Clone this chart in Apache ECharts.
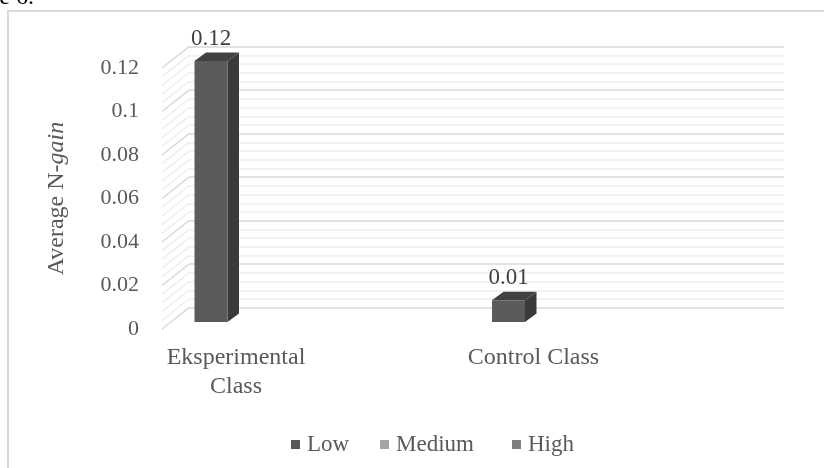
<!DOCTYPE html>
<html>
<head>
<meta charset="utf-8">
<script src="https://cdn.jsdelivr.net/npm/echarts@6/dist/echarts.min.js"></script>
<style>
  html, body { margin: 0; padding: 0; background: #ffffff; }
  #chart { width: 824px; height: 468px; }
</style>
</head>
<body>
<div id="chart"></div>
<script>
// Average N-gain per class, split by level
const categories = ['Eksperimental\nClass', 'Control Class'];
const seriesNames = ['Low', 'Medium', 'High'];
const lowValues = [0.12, 0.01];
const mediumValues = [];
const highValues = [];
const yTicks = [0, 0.02, 0.04, 0.06, 0.08, 0.1, 0.12];
const yTickLabels = ['0', '0.02', '0.04', '0.06', '0.08', '0.1', '0.12'];

const FONT = '"Liberation Serif", "Times New Roman", serif';
const TEXT = '#595959';
const PLANE_W = 595, PLANE_H = 261;
const DEPTH = { x: 27, y: 21.3 };      // offset from front plane to back wall
const MINOR_SPLIT = 5;

// gridline values on the side wall: majors plus their minor subdivisions
const wallValues = [];
const wallMajor = [];
yTicks.forEach((t, i) => {
  if (i < yTicks.length - 1) {
    const step = (yTicks[i + 1] - t) / MINOR_SPLIT;
    for (let k = 0; k < MINOR_SPLIT; k++) {
      wallValues.push([0, t + step * k]);
      wallMajor.push(k === 0);
    }
  } else {
    wallValues.push([0, t]);
    wallMajor.push(true);
  }
});

function tickLabel(v) {
  let best = 0;
  yTicks.forEach((t, i) => { if (Math.abs(t - v) < Math.abs(yTicks[best] - v)) best = i; });
  return yTickLabels[best];
}

function renderSideWall(params, api) {
  const p = api.coord([0, api.value(1)]);
  const x0 = params.coordSys.x;
  const major = wallMajor[params.dataIndex];
  return {
    type: 'line',
    shape: { x1: x0 - DEPTH.x, y1: p[1] + DEPTH.y, x2: x0, y2: p[1] },
    style: { stroke: major ? '#d9d9d9' : '#eeeeee', lineWidth: 1.5 }
  };
}

function renderBar(params, api) {
  const v = api.value(1);
  const base = api.coord([api.value(0), 0]);
  const top = api.coord([api.value(0), v]);
  const w = 33, dx = 11.5, dy = -8.5;
  const l = base[0] - 41.5, r = l + w;
  const b = base[1] - 7, t = top[1] - 7;
  return {
    type: 'group',
    children: [
      { type: 'polygon', shape: { points: [[r, t], [r + dx, t + dy], [r + dx, b + dy], [r, b]] },
        style: { fill: '#3a3a3a' } },
      { type: 'polygon', shape: { points: [[l, t], [l + dx, t + dy], [r + dx, t + dy], [r, t]] },
        style: { fill: '#414141' } },
      { type: 'rect', shape: { x: l, y: t, width: w, height: b - t },
        style: { fill: '#5b5b5b' } },
      { type: 'text', x: l + w / 2, y: t - 22,
        style: { text: String(v), align: 'center', verticalAlign: 'middle',
                 font: '23px ' + FONT, fill: '#404040' } }
    ]
  };
}

const chart = echarts.init(document.getElementById('chart'), null, { renderer: 'canvas' });

function legendAt(left, name) {
  return {
    left: left, top: 428, itemWidth: 9, itemHeight: 9, icon: 'rect', itemGap: 0,
    selectedMode: false, data: [name],
    textStyle: { fontFamily: 'Liberation Serif', fontSize: 23, color: TEXT, padding: [0, 0, 0, 2] }
  };
}

chart.setOption({
  backgroundColor: '#ffffff',
  animation: false,
  graphic: [
    { type: 'rect', z: -10, silent: true,
      shape: { x: 8, y: 11, width: 900, height: 600 },
      style: { fill: 'none', stroke: '#d9d9d9', lineWidth: 2 } },
    { type: 'text', silent: true, x: 34, y: -2,
      style: { text: 'Figure 6.', align: 'right', verticalAlign: 'middle',
               font: '24px ' + FONT, fill: '#000000' } }
  ],
  legend: [
    legendAt(286, 'Low'),
    legendAt(375, 'Medium'),
    legendAt(507, 'High')
  ],
  grid: [
    { left: 189, top: 46.7, width: PLANE_W, height: PLANE_H, outerBoundsMode: 'none' },
    { left: 162, top: 68, width: PLANE_W, height: PLANE_H, outerBoundsMode: 'none' },
    { left: 87.25, top: 68, width: PLANE_W, height: PLANE_H, outerBoundsMode: 'none' }
  ],
  xAxis: [
    { gridIndex: 0, type: 'category', data: categories, show: false },
    { gridIndex: 1, type: 'category', data: categories, show: false },
    { gridIndex: 2, type: 'category', data: categories,
      axisLine: { show: false }, axisTick: { show: false }, splitLine: { show: false },
      axisLabel: { fontFamily: FONT, fontSize: 24, color: TEXT, margin: 14.5, lineHeight: 29 } }
  ],
  yAxis: [
    { gridIndex: 0, type: 'value', min: 0, max: 0.12, interval: 0.02,
      axisLine: { show: false }, axisTick: { show: false }, axisLabel: { show: false },
      splitLine: { show: true, lineStyle: { color: '#d9d9d9', width: 1.5 } },
      minorTick: { show: false, splitNumber: MINOR_SPLIT },
      minorSplitLine: { show: true, lineStyle: { color: '#eeeeee', width: 1.5 } } },
    { gridIndex: 1, type: 'value', min: 0, max: 0.12, interval: 0.02,
      axisLine: { show: false }, axisTick: { show: false }, splitLine: { show: false },
      axisLabel: { fontFamily: FONT, fontSize: 22, color: TEXT, margin: 23, formatter: tickLabel },
      name: '{a|Average N-}{b|gain}', nameLocation: 'middle', nameRotate: 90, nameGap: 93,
      nameTextStyle: {
        fontFamily: FONT, fontSize: 24, color: TEXT,
        rich: {
          a: { fontFamily: FONT, fontSize: 24, color: TEXT },
          b: { fontFamily: FONT, fontSize: 24, color: TEXT, fontStyle: 'italic' }
        }
      } },
    { gridIndex: 2, type: 'value', min: 0, max: 0.12, interval: 0.02, show: false,
      splitLine: { show: false } }
  ],
  series: [
    { type: 'custom', name: 'wall', xAxisIndex: 0, yAxisIndex: 0, silent: true, z: 1,
      renderItem: renderSideWall, data: wallValues },
    { type: 'custom', name: seriesNames[0], xAxisIndex: 2, yAxisIndex: 2, z: 5,
      itemStyle: { color: '#595959' },
      renderItem: renderBar, data: lowValues.map((v, i) => [i, v]) },
    { type: 'bar', name: seriesNames[1], xAxisIndex: 2, yAxisIndex: 2,
      itemStyle: { color: '#a5a5a5' }, data: mediumValues },
    { type: 'bar', name: seriesNames[2], xAxisIndex: 2, yAxisIndex: 2,
      itemStyle: { color: '#7f7f7f' }, data: highValues }
  ]
});
</script>
</body>
</html>
